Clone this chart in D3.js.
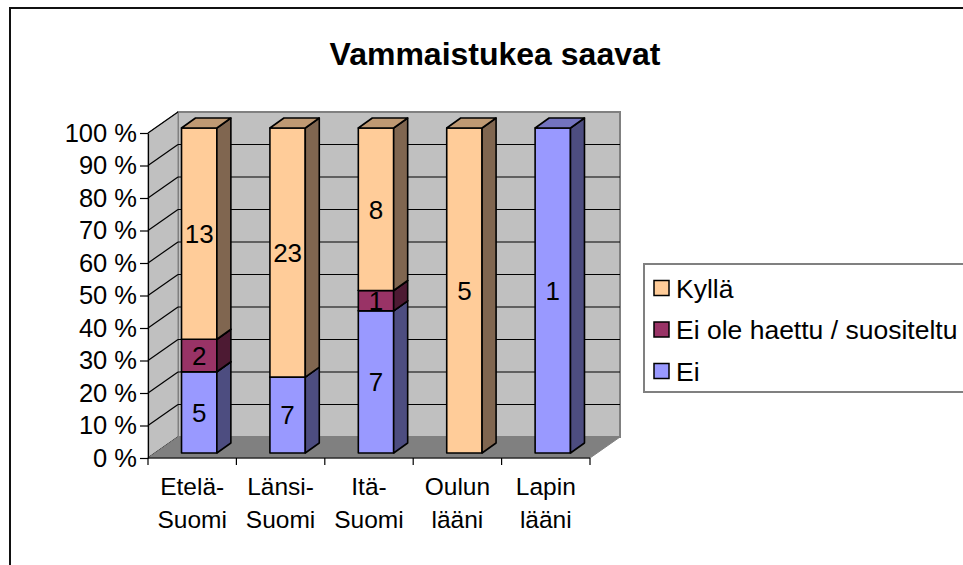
<!DOCTYPE html>
<html><head><meta charset="utf-8">
<script src="https://cdn.jsdelivr.net/npm/d3@7/dist/d3.min.js"></script>
<style>
html,body{margin:0;padding:0;background:#fff;}
svg{display:block;font-family:"Liberation Sans",Arial,sans-serif;}
</style></head>
<body>
<svg id="chart" width="963" height="565"></svg>
<script>
const title = "Vammaistukea saavat";
const categories = [["Etelä-","Suomi"],["Länsi-","Suomi"],["Itä-","Suomi"],["Oulun","lääni"],["Lapin","lääni"]];
const seriesNames = ["Ei","Ei ole haettu / suositeltu","Kyllä"];
const ei = [5,7,7,0,1];
const eiOle = [2,0,1,0,0];
const kylla = [13,23,8,5,0];
const yTicks = [0,0.1,0.2,0.3,0.4,0.5,0.6,0.7,0.8,0.9,1];
const seriesValues = [ei, eiOle, kylla];
const colors = [
  {front:"#9999FF", top:"#7373BF", side:"#4D4D80"},
  {front:"#993366", top:"#732640", side:"#4D1A33"},
  {front:"#FFCC99", top:"#BF9973", side:"#806650"}
];

const svg = d3.select("#chart");
svg.append("rect").attr("x",10).attr("y",8).attr("width",1000).attr("height",600)
  .attr("fill","#fff").attr("stroke","#111").attr("stroke-width",2);

svg.append("text").attr("x",495).attr("y",65).attr("text-anchor","middle")
  .attr("font-size",32).attr("font-weight","bold").text(title);

const catKeys = categories.map(c=>c.join(" "));
const x = d3.scaleBand().domain(catKeys).range([148,590]).padding(0);
const y = d3.scaleLinear().domain([0,1]).range([458,133]);
const DX = 30, DY = 21;

svg.append("rect").attr("x",148+DX).attr("y",y(1)-DY).attr("width",590-148).attr("height",y(0)-y(1))
  .attr("fill","#C0C0C0").attr("stroke","#808080").attr("stroke-width",2);
svg.append("path").attr("d",`M148,${y(0)}L148,${y(1)}L${148+DX},${y(1)-DY}L${148+DX},${y(0)-DY}Z`)
  .attr("fill","#C0C0C0").attr("stroke","#808080").attr("stroke-width",1);
yTicks.forEach(t=>{
  if(t>0 && t<1){
    svg.append("line").attr("x1",148+DX).attr("x2",590+DX).attr("y1",y(t)-DY).attr("y2",y(t)-DY)
      .attr("stroke","#000").attr("stroke-width",1.2);
  }
  svg.append("line").attr("x1",148).attr("x2",148+DX).attr("y1",y(t)).attr("y2",y(t)-DY)
    .attr("stroke","#000").attr("stroke-width",1.2);
});
svg.append("path").attr("d",`M148,${y(0)}L590,${y(0)}L${590+DX},${y(0)-DY}L${148+DX},${y(0)-DY}Z`)
  .attr("fill","#808080").attr("stroke","#808080").attr("stroke-width",1);

const yAxis = d3.axisLeft(y).tickValues(yTicks).tickFormat(d=>Math.round(d*100)+" %").tickSize(8).tickSizeOuter(0).tickPadding(3);
const gy = svg.append("g").attr("transform","translate(148,0)").call(yAxis);
gy.selectAll("text").attr("font-size",25.5).attr("fill","#000").attr("font-family","Liberation Sans, Arial, sans-serif");
gy.selectAll("line,path").attr("stroke","#000").attr("stroke-width",1.2);

svg.append("line").attr("x1",148).attr("x2",590).attr("y1",y(0)).attr("y2",y(0)).attr("stroke","#000").attr("stroke-width",1.2);
const bounds = catKeys.map(k=>x(k)).concat([x(catKeys[catKeys.length-1])+x.bandwidth()]);
bounds.forEach(b=>{
  svg.append("line").attr("x1",b).attr("x2",b).attr("y1",y(0)).attr("y2",y(0)+7).attr("stroke","#000").attr("stroke-width",1.2);
});
categories.forEach((c,i)=>{
  const cx = x(catKeys[i]) + x.bandwidth()/2;
  const t = svg.append("text").attr("text-anchor","middle").attr("font-size",24.5);
  t.append("tspan").attr("x",cx).attr("y",495).text(c[0]);
  t.append("tspan").attr("x",cx).attr("y",528).text(c[1]);
});

const BW = x.bandwidth()*0.4, OX = 7, OY = 5, BDX = 14, BDY = 10;
catKeys.forEach((k,i)=>{
  const total = d3.sum(seriesValues, s=>s[i]);
  let cum = 0;
  const x0 = x(k) + x.bandwidth()/2 - BW/2 + OX, x1 = x0 + BW;
  seriesValues.forEach((s,si)=>{
    const v = s[i];
    if(!v) return;
    const yb = y(cum/total) - OY, yt = y((cum+v)/total) - OY;
    cum += v;
    const g = svg.append("g").attr("stroke","#000").attr("stroke-width",1.6).attr("stroke-linejoin","round");
    g.append("rect").attr("x",x0).attr("y",yt).attr("width",BW).attr("height",yb-yt).attr("fill",colors[si].front);
    g.append("path").attr("d",`M${x1},${yb}L${x1+BDX},${yb-BDY}L${x1+BDX},${yt-BDY}L${x1},${yt}Z`).attr("fill",colors[si].side);
    g.append("path").attr("d",`M${x0},${yt}L${x0+BDX},${yt-BDY}L${x1+BDX},${yt-BDY}L${x1},${yt}Z`).attr("fill",colors[si].top);
    svg.append("text").attr("x",(x0+x1)/2).attr("y",(yb+yt)/2).attr("dy","0.36em")
      .attr("text-anchor","middle").attr("font-size",26).text(v);
  });
});

svg.append("rect").attr("x",644).attr("y",264).attr("width",400).attr("height",128)
  .attr("fill","#fff").attr("stroke","#808080").attr("stroke-width",2);
const legendOrder = [2,1,0];
legendOrder.forEach((si,j)=>{
  const cy = 288 + j*41.5;
  svg.append("rect").attr("x",654).attr("y",cy-7.5).attr("width",15).attr("height",15)
    .attr("fill",colors[si].front).attr("stroke","#000").attr("stroke-width",1.5);
  svg.append("text").attr("x",676).attr("y",cy).attr("dy","0.36em").attr("font-size",26.5).text(seriesNames[si]);
});
</script>
</body></html>
